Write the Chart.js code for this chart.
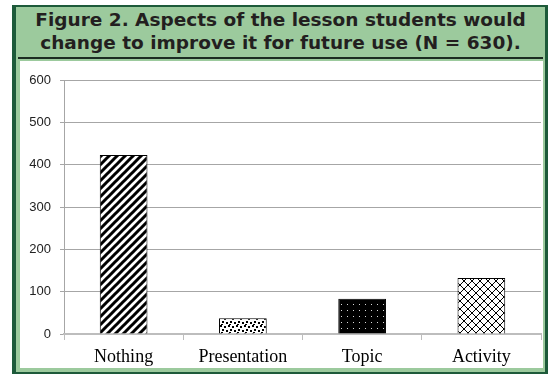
<!DOCTYPE html>
<html>
<head>
<meta charset="utf-8">
<script src="https://cdn.jsdelivr.net/npm/chart.js@4.4.1/dist/chart.umd.min.js"></script>
<style>
  body { margin: 0; background: #fff; width: 548px; height: 374px; overflow: hidden; position: relative; }
  #frame {
    position: absolute; left: 12px; top: 5px; width: 536px; height: 369px;
    box-sizing: border-box; background: #9cca9d;
    border-left: 4px solid #1d5a3a; border-top: 2px solid #1d5a3a;
    border-right: 3px solid #1d5a3a; border-bottom: 2px solid #1d5a3a;
  }
  #title {
    position: absolute; left: 16px; top: 9px; width: 529px; text-align: center;
    font-family: "DejaVu Sans", sans-serif; font-weight: bold;
    font-size: 18.5px; line-height: 22.6px; color: #231f20; white-space: nowrap;
  }
  #rule { position: absolute; left: 18px; top: 57px; width: 525px; height: 2px; background: #1c2d22; }
  #panel { position: absolute; left: 20px; top: 61px; width: 523px; height: 307px; background: #fff; }
  canvas { display: block; }
</style>
</head>
<body>
<div id="frame"></div>
<div id="title">Figure 2. Aspects of the lesson students would<br>change to improve it for future use (N = 630).</div>
<div id="rule"></div>
<div id="panel"><canvas id="chart" width="523" height="307"></canvas></div>
<script>
// données
const categories = ['Nothing', 'Presentation', 'Topic', 'Activity'];
const responses = [423, 37, 83, 132];
const yTicks = [0, 100, 200, 300, 400, 500, 600];

// motifs de remplissage (style Excel noir et blanc)
function makePattern(size, draw) {
    const c = document.createElement('canvas');
    c.width = size; c.height = size;
    const g = c.getContext('2d');
    draw(g, size);
    return g.createPattern(c, 'repeat');
}

const ctx = document.getElementById('chart').getContext('2d');

const stripes = makePattern(8, (g, s) => {
    g.fillStyle = '#fff'; g.fillRect(0, 0, s, s);
    g.strokeStyle = '#000'; g.lineWidth = 3;
    g.beginPath();
    g.moveTo(-s, s); g.lineTo(s, -s);
    g.moveTo(0, 2 * s); g.lineTo(2 * s, 0);
    g.moveTo(0, s); g.lineTo(s, 0);
    g.stroke();
});

const confetti = makePattern(8, (g, s) => {
    g.fillStyle = '#fff'; g.fillRect(0, 0, s, s);
    g.fillStyle = '#000';
    [[0, 0], [4, 1], [2, 4], [6, 5], [1, 7]].forEach(([x, y]) => g.fillRect(x, y, 2, 2));
});

const dots = makePattern(6, (g, s) => {
    g.fillStyle = '#000'; g.fillRect(0, 0, s, s);
    g.fillStyle = '#d8d8d8'; g.fillRect(3, 3, 1, 1);
});

const hatch = makePattern(8, (g, s) => {
    g.fillStyle = '#fff'; g.fillRect(0, 0, s, s);
    g.strokeStyle = '#000'; g.lineWidth = 1;
    g.beginPath();
    g.moveTo(0, 0); g.lineTo(s, s);
    g.moveTo(0, s); g.lineTo(s, 0);
    g.stroke();
});

new Chart(ctx, {
    type: 'bar',
    data: {
        labels: categories,
        datasets: [{
            data: responses,
            backgroundColor: [stripes, confetti, dots, hatch],
            borderColor: '#000',
            borderWidth: 1,
            barPercentage: 0.4,
            categoryPercentage: 1.0
        }]
    },
    options: {
        responsive: false,
        animation: false,
        devicePixelRatio: 1,
        layout: { padding: { left: 0, top: 19, right: 2, bottom: 0 } },
        plugins: { legend: { display: false }, tooltip: { enabled: false } },
        scales: {
            y: {
                min: 0,
                max: yTicks[yTicks.length - 1],
                afterBuildTicks: s => { s.ticks = yTicks.map(v => ({ value: v })); },
                afterFit: s => { s.width = 44; },
                grid: { color: '#a6a6a6', tickLength: 4 },
                border: { color: '#a6a6a6' },
                ticks: { color: '#222', padding: 9, font: { family: 'Liberation Sans', size: 13 } }
            },
            x: {
                afterFit: s => { s.height = 34; },
                grid: { drawOnChartArea: false, tickLength: 6, color: '#bdbdbd' },
                border: { color: '#bdbdbd', width: 2 },
                ticks: { color: '#000', padding: 6, maxRotation: 0, font: { family: 'Liberation Serif', size: 18 } }
            }
        }
    }
});
</script>
</body>
</html>
